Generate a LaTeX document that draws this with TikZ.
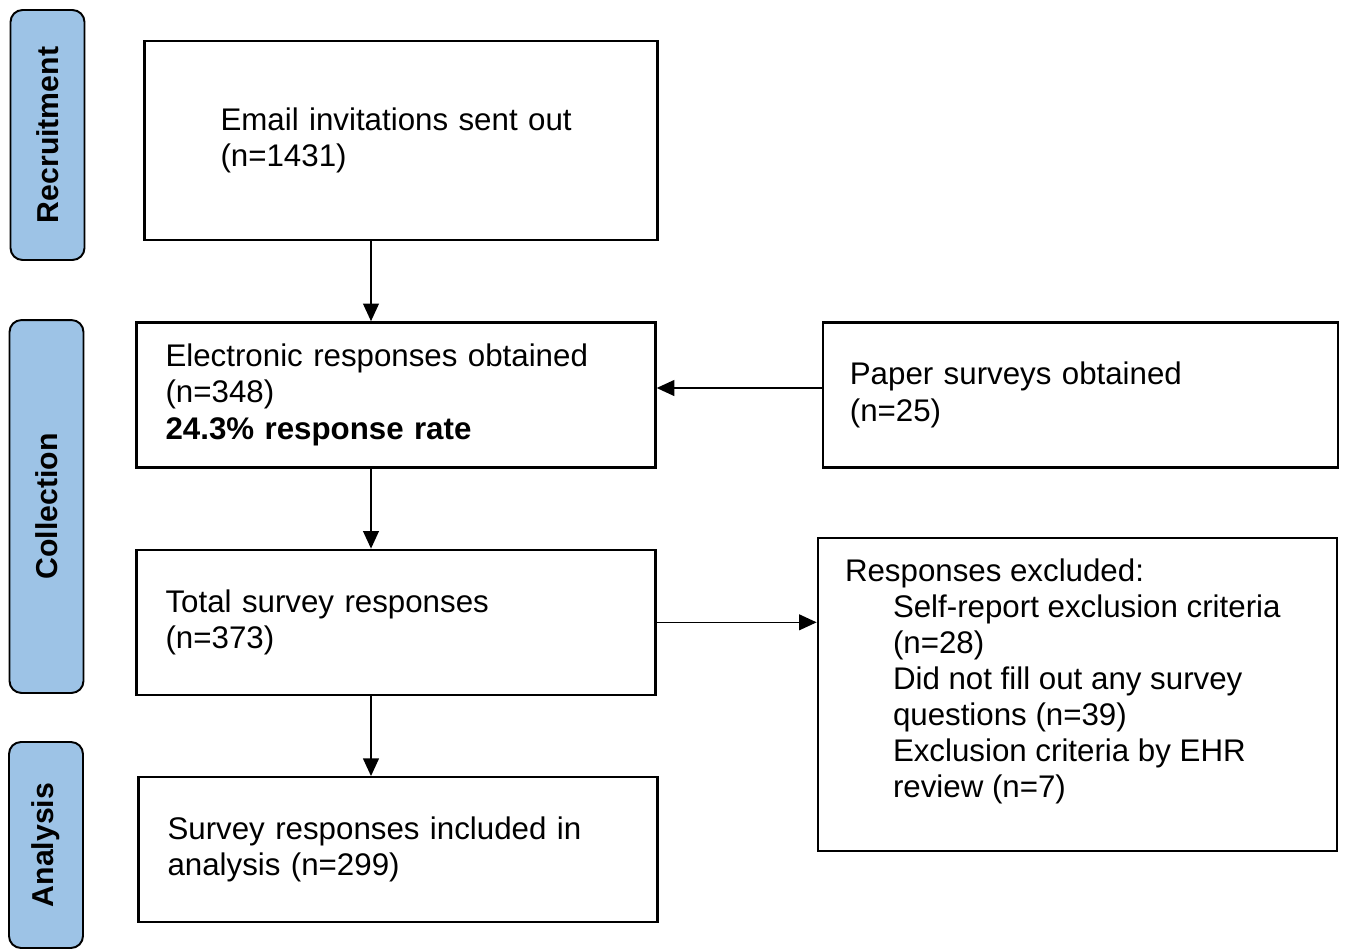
\documentclass[tikz,border=0pt]{standalone}
\usepackage{fontspec}
\setmainfont{Liberation Sans}
\usepackage{xcolor}
\usepackage{tikz}
\usetikzlibrary{arrows.meta,positioning,calc}
\definecolor{stageblue}{HTML}{9DC3E6}

\begin{document}
\begin{tikzpicture}[x=0.02cm, y=-0.02cm, node distance=1.6cm,
				box/.style={rectangle, draw=black, line width=1.4pt, align=left, inner xsep=0.58cm, text width=9.22cm, minimum height=2.9cm, font=\fontsize{17.8}{20.5}\selectfont},
				stage/.style={rectangle, draw=black, line width=1.1pt, fill=stageblue, rounded corners=0.24cm, rotate=90, minimum height=1.48cm, font=\fontsize{17.2}{20}\selectfont\bfseries},
				arrow/.style={-{Triangle[length=10pt,width=9pt]}, line width=0.85pt, draw=black}]
				
				\useasboundingbox (0,0) rectangle (1349,950);
				
				% stages on the left
				\node[stage, minimum width=5cm] (recruit) at (47.5,135) {Recruitment};
				\node[stage, minimum width=7.46cm] (collect) at (46.5,506.5) {Collection};
				\node[stage, minimum width=4.12cm] (analyse) at (46,845) {Analysis};
				
				% main column
				\node[box, inner xsep=1.52cm, text width=7.22cm, minimum height=3.98cm] (email) at (401,140.5) {Email invitations sent out\\(n=1431)};
				\node[box, below=of email, xshift=-0.1cm] (elec) {Electronic responses obtained\\(n=348)\\\textbf{24.3\% response rate}};
				\node[box, below=of elec] (total) {Total survey responses\\(n=373)};
				\node[box, below=of total, xshift=0.04cm] (incl) {Survey responses included in\\analysis (n=299)};
				
				% side boxes
				\node[box, inner xsep=0.54cm, right=3.3cm of elec] (paper) {Paper surveys obtained\\(n=25)};
				\node[box, text width=9.26cm, inner xsep=0.56cm, minimum height=6.26cm, right=3.2cm of total.north east, anchor=north west, yshift=0.24cm] (excl) {};
				\node[anchor=north west, inner sep=0pt, align=left, font=\fontsize{17.8}{20.5}\selectfont] (excltext) at ($(excl.north west)+(28,22)$)
					{Responses excluded:\\
					\hspace*{0.96cm}Self-report exclusion criteria\\
					\hspace*{0.96cm}(n=28)\\
					\hspace*{0.96cm}Did not fill out any survey\\
					\hspace*{0.96cm}questions (n=39)\\
					\hspace*{0.96cm}Exclusion criteria by EHR\\
					\hspace*{0.96cm}review (n=7)};
				
				\coordinate (spine) at (371,0);
				\coordinate (paperline) at (0,388);
				
				\draw[arrow] (email.south -| spine) -- (elec.north -| spine);
				\draw[arrow] (elec.south -| spine) -- (total.north -| spine);
				\draw[arrow] (total.south -| spine) -- (incl.north -| spine);
				\draw[arrow] (paper.west |- paperline) -- (elec.east |- paperline);
				\draw[arrow] (total.east) -- (total.east -| excl.west);
				
			\end{tikzpicture}
\end{document}
